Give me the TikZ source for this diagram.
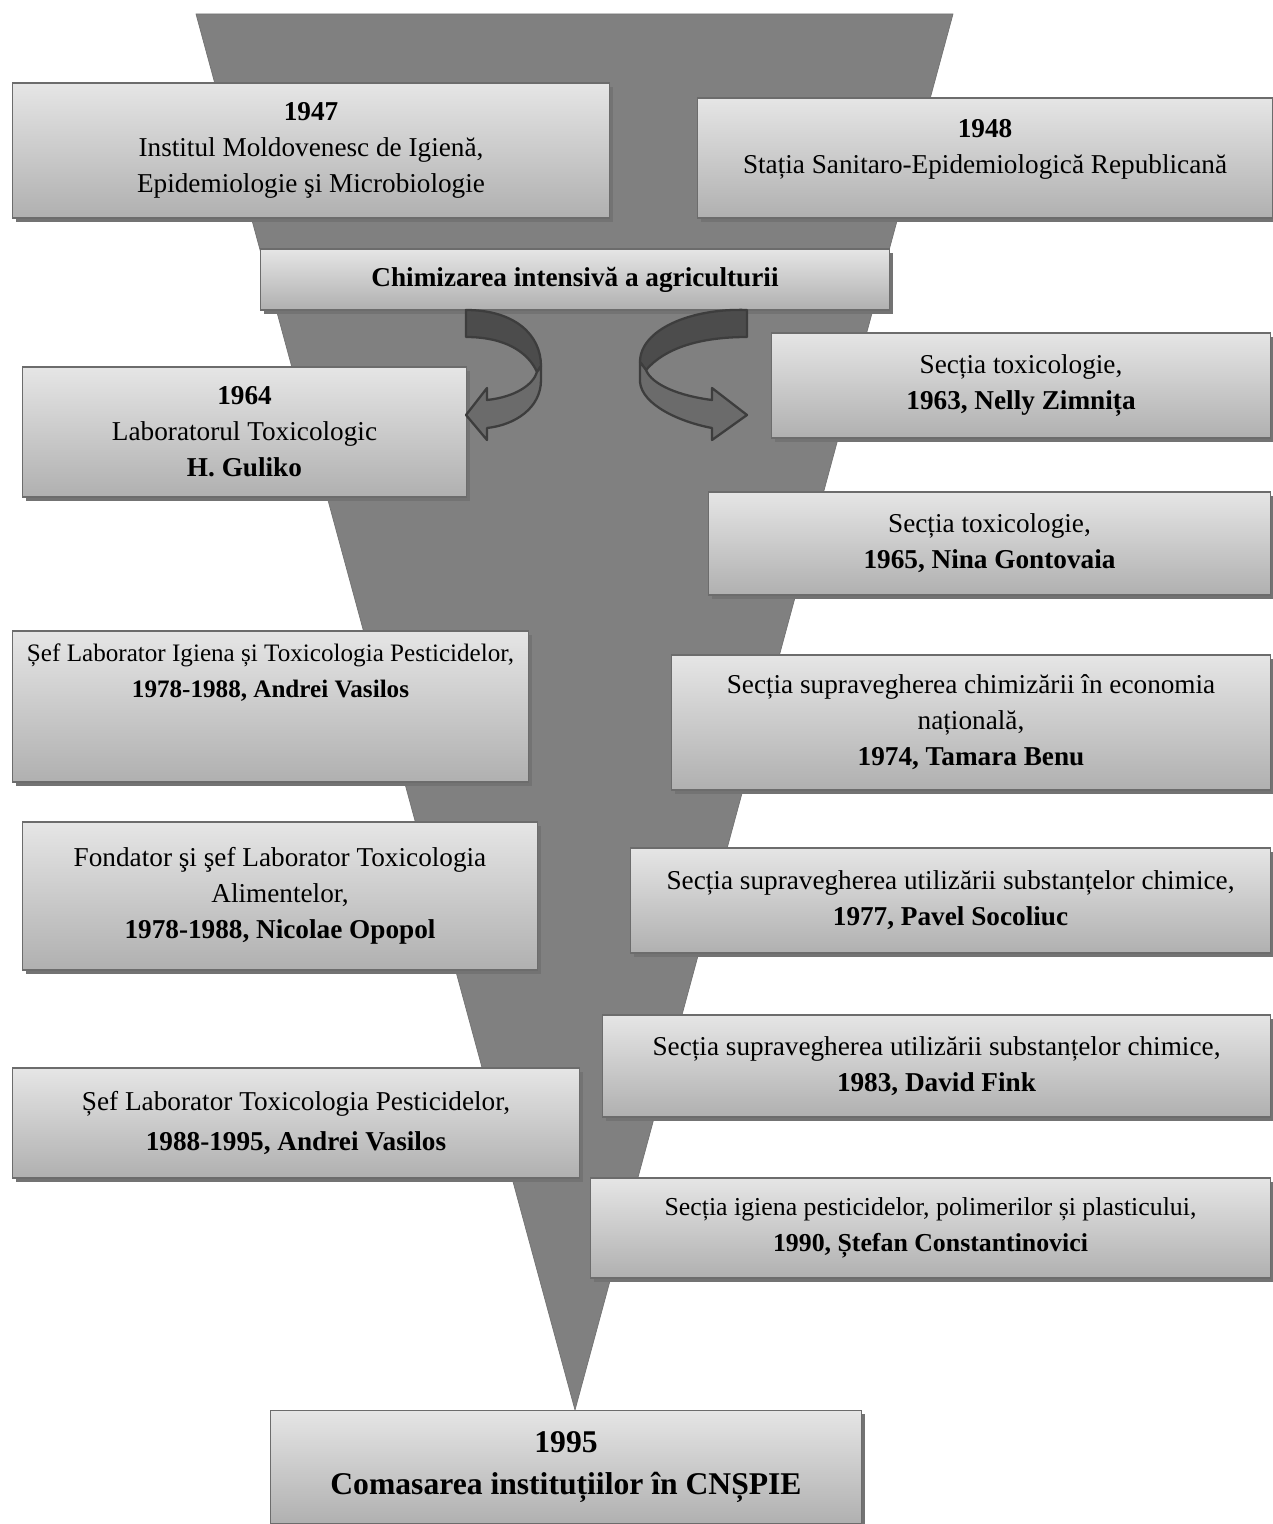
\documentclass[tikz,border=0pt]{standalone}
\usepackage{fontspec}
\setmainfont{Liberation Serif}
\usetikzlibrary{shadows}

\begin{document}
\begin{tikzpicture}[x=0.02cm,y=-0.02cm]
\tikzset{box/.style={draw=gray!85!black, line width=0.6pt,
top color=gray!20, bottom color=gray!62,
drop shadow={shadow xshift=0.07cm, shadow yshift=-0.08cm, fill=black!55, opacity=1},
align=center, inner sep=2pt, font=\fontsize{15.5}{20.5}\selectfont},
funnel/.style={fill=gray, draw=gray!90!black},
arrtop/.style={fill=black!70, draw=black!76, line width=1.3pt, line join=round},
arrbot/.style={fill=black!58, draw=black!76, line width=1.3pt, line join=round},
}
\useasboundingbox (0,0) rectangle (1273,1524);

% funnel behind everything
\fill[funnel] (196,14) -- (953,14) -- (575,1410) -- cycle;

% left column
\node[box, minimum width=11.96cm, minimum height=2.7cm] (inst) at (311,150.5)
{\textbf{1947}\\Institul Moldovenesc de Igienă,\\Epidemiologie şi Microbiologie};
\node[box, minimum width=8.9cm, minimum height=2.6cm] (lab64) at (244.5,432)
{\textbf{1964}\\Laboratorul Toxicologic\\\textbf{H. Guliko}};
\node[box, minimum width=10.34cm, minimum height=3.02cm, font=\fontsize{14.3}{20.5}\selectfont] (lab78) at (270.5,706.5)
{Șef Laborator Igiena și Toxicologia Pesticidelor,\\\textbf{1978-1988, Andrei Vasilos}\\~\\~};
\node[box, minimum width=10.32cm, minimum height=2.96cm] (fond) at (280,896)
{Fondator şi şef Laborator Toxicologia\\Alimentelor,\\\textbf{1978-1988, Nicolae Opopol}};
\node[box, minimum width=11.36cm, minimum height=2.2cm, font=\fontsize{15.5}{23}\selectfont] (lab88) at (296,1123)
{Șef Laborator Toxicologia Pesticidelor,\\\textbf{1988-1995, Andrei Vasilos}};

% right column
\node[box, minimum width=11.5cm, minimum height=2.4cm] (statia) at (985,158)
{\textbf{1948}\\Stația Sanitaro-Epidemiologică Republicană\\[-0.25cm]~};
\node[box, minimum width=10cm, minimum height=2.1cm] (s63) at (1021,385.5)
{Secția toxicologie,\\\textbf{1963, Nelly Zimnița}};
\node[box, minimum width=11.26cm, minimum height=2.06cm] (s65) at (989.5,543.5)
{Secția toxicologie,\\\textbf{1965, Nina Gontovaia}};
\node[box, minimum width=12cm, minimum height=2.7cm] (s74) at (971,722.5)
{Secția supravegherea chimizării în economia\\națională,\\\textbf{1974, Tamara Benu}};
\node[box, minimum width=12.82cm, minimum height=2.1cm] (s77) at (950.5,900.5)
{Secția supravegherea utilizării substanțelor chimice,\\\textbf{1977, Pavel Socoliuc}};
\node[box, minimum width=13.38cm, minimum height=2.04cm] (s83) at (936.5,1066)
{Secția supravegherea utilizării substanțelor chimice,\\\textbf{1983, David Fink}};
\node[box, minimum width=13.62cm, minimum height=2cm, font=\fontsize{14.7}{20.5}\selectfont] (s90) at (930.5,1228)
{Secția igiena pesticidelor, polimerilor și plasticului,\\\textbf{1990, Ștefan Constantinovici}};

% middle
\node[box, minimum width=12.6cm, minimum height=1.22cm, font=\fontsize{15.5}{20.5}\selectfont\bfseries] (chim) at (575,279.5)
{Chimizarea intensivă a agriculturii};
\node[box, minimum width=11.84cm, minimum height=2.28cm, font=\fontsize{18}{24}\selectfont\bfseries] (cnspie) at (566,1467)
{1995\\Comasarea instituțiilor în CNȘPIE};

% curved arrows out of chim
\filldraw[arrtop] (466,310) .. controls (515,310) and (541,335) .. (541,366)
  -- (537,372) .. controls (528,352) and (505,337) .. (466,337) -- cycle;
\filldraw[arrbot] (541,366) -- (541,380) .. controls (541,408) and (515,425) .. (487,428)
  -- (487,440) -- (466,415) -- (487,388) -- (487,400)
  .. controls (515,397) and (533,385) .. (537,372) -- cycle;
\filldraw[arrtop] (747,310) .. controls (690,308) and (640,330) .. (640,362)
  -- (646,370) .. controls (665,348) and (700,337) .. (747,337) -- cycle;
\filldraw[arrbot] (640,362) -- (640,382) .. controls (642,405) and (680,422) .. (712,428)
  -- (712,440) -- (747,415) -- (712,388) -- (712,400)
  .. controls (680,396) and (652,385) .. (646,370) -- cycle;
\end{tikzpicture}
\end{document}
